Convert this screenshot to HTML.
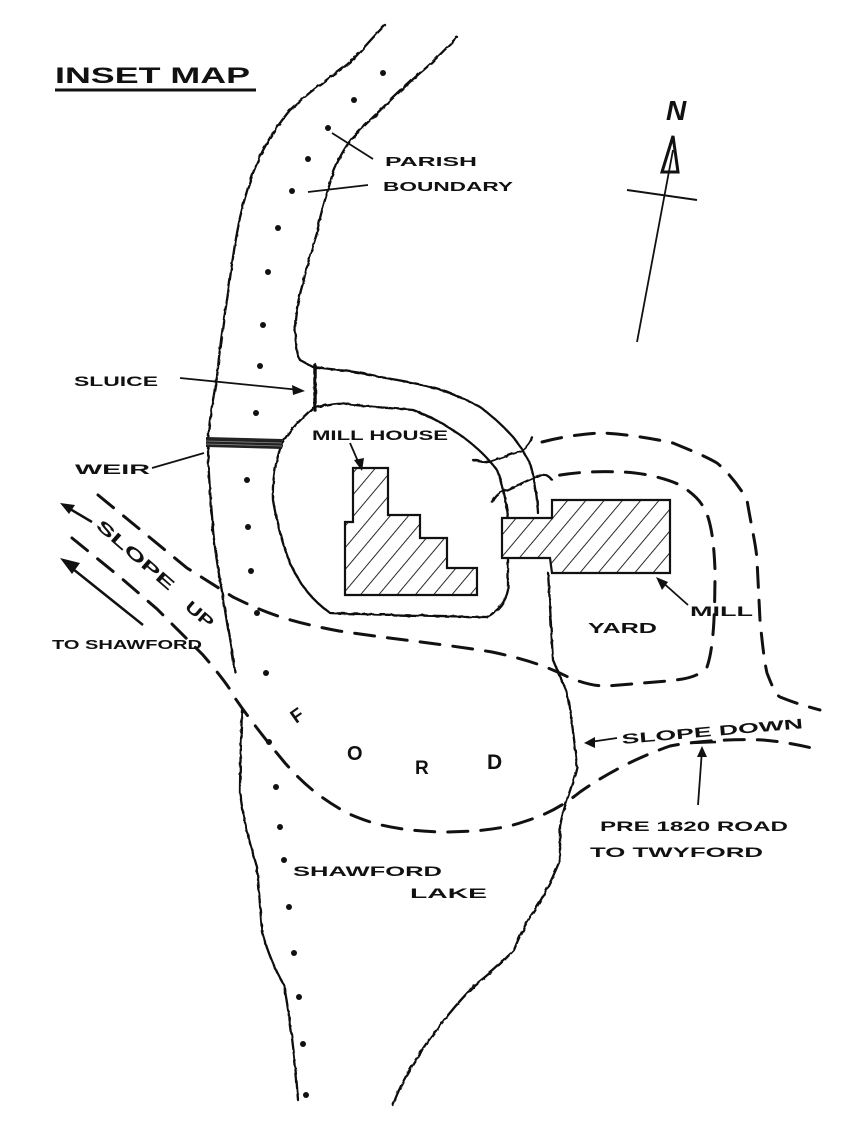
<!DOCTYPE html>
<html><head><meta charset="utf-8"><style>
html,body{margin:0;padding:0;background:#fff;}
svg{display:block;}
text{font-family:"Liberation Sans",sans-serif;font-weight:bold;fill:#111;}
</style></head><body>
<svg width="845" height="1142" viewBox="0 0 845 1142" xmlns="http://www.w3.org/2000/svg">
<defs>
<filter id="r" x="-5%" y="-5%" width="110%" height="110%">
<feTurbulence type="fractalNoise" baseFrequency="0.15" numOctaves="2" seed="3"/>
<feDisplacementMap in="SourceGraphic" scale="2.5"/>
</filter>
<pattern id="h" patternUnits="userSpaceOnUse" width="14" height="14" patternTransform="rotate(40)">
<line x1="0" y1="0" x2="0" y2="14" stroke="#111" stroke-width="1.8"/>
</pattern>
</defs>
<rect width="845" height="1142" fill="#fff"/>

<text x="55" y="83" font-size="22" textLength="195" lengthAdjust="spacingAndGlyphs" font-weight="normal">INSET MAP</text>
<line x1="55" y1="90" x2="256" y2="90" stroke="#111" stroke-width="3"/>

<g fill="none" stroke="#111" stroke-width="2.3" stroke-linecap="round" stroke-linejoin="round" filter="url(#r)">
<path d="M385,25 C365,45 355,60 340,70 C315,88 300,100 290,110 C270,135 262,150 253,173 C245,195 240,215 237,233 C232,260 230,280 227,300 C222,330 219,355 217,377 C213,400 209,420 208,443 C208,480 212,510 213,530 C216,560 220,580 223,597 C227,625 232,650 235,672"/>
<path d="M242,710 C241,740 240,770 240,793 C245,830 252,850 257,867 C259,890 260,905 262,932 C270,960 278,975 284,985 C292,1030 296,1070 298,1100"/>
<path d="M457,37 C440,55 430,65 420,73 C395,95 370,120 353,137 C343,150 338,160 333,173 C325,200 320,215 317,233 C310,255 306,270 303,283 C298,300 295,315 295,330 C296,345 297,355 300,360 L313,367"/>
<path d="M313,367 C340,370 360,372 380,377 C410,382 430,386 447,392 C462,398 472,402 480,407 C495,418 505,428 513,437 C520,445 526,456 530,463 C535,480 537,495 538,513"/>
<path d="M313,408 C330,404 340,402 347,404 C370,407 390,408 413,410 C435,418 450,428 463,437 C478,448 488,458 497,470 C503,485 506,500 508,517"/>
<path d="M313,408 C300,420 290,430 282,443 C276,460 272,480 273,500 C278,530 284,548 290,563 C300,585 312,600 330,613 C380,615 440,616 487,617 C500,610 506,600 508,590 L508,558"/>
<path d="M548,573 C550,600 551,630 553,660 C558,672 563,683 567,693 C572,720 575,745 577,767 C574,780 570,790 567,800 C563,812 561,820 560,827 C560,840 560,850 560,860 C552,880 542,900 530,917 C522,930 518,940 514,950 C500,965 488,975 475,985 C455,1005 440,1025 426,1044 C410,1068 400,1085 393,1105"/>
<line x1="315" y1="365" x2="315" y2="410" stroke-width="3.5"/>
<path d="M473,460 C480,461 486,462 490,462 L523,450 C528,446 531,442 532,437"/>
<path d="M492,502 C495,495 500,491 507,490 L540,475 C545,474 549,476 552,480"/>
</g>
<path d="M206,437 L282,439 L282,449 L206,447 Z" fill="#222"/>
<path d="M206,441 L282,443 M206,444 L282,446" stroke="#888" stroke-width="0.8"/>

<g stroke="#111" stroke-width="2.2" fill="url(#h)">
<path d="M353,468 L388,468 L388,515 L420,515 L420,538 L447,538 L447,568 L477,568 L477,595 L345,595 L345,522 L353,522 Z"/>
<path d="M502,518 L552,518 L552,500 L670,500 L670,573 L552,573 L550,558 L502,558 Z"/>
</g>

<g fill="none" stroke="#111" stroke-width="3" stroke-dasharray="20 13" stroke-linecap="round">
<path d="M98,495 L148,536 L187,568 L233,597 C260,610 280,620 339,631 C400,640 450,645 492,652 C530,660 550,668 568,677 C585,684 595,686 607,686 L667,681 C685,679 697,678 707,667 C713,650 715,620 715,570 C714,545 712,530 708,517 C703,505 700,498 680,485 C665,478 640,472 620,472 C600,471 575,472 555,476"/>
<path d="M542,442 C565,436 590,433 603,433 C625,434 650,438 673,443 C690,450 705,456 717,463 C728,472 740,487 747,500 C752,530 756,545 757,560 L760,620 C762,640 764,660 767,673 C772,686 776,695 780,697 C795,703 805,706 820,710"/>
<path d="M72,538 L120,577 L157,609 L203,655 C220,675 230,688 235,698 C250,720 270,745 285,763 C300,780 315,795 347,813 C370,823 390,830 440,832 C470,832 500,830 523,822 C545,815 560,808 580,792 C600,778 630,760 670,746 C700,740 740,739 763,740 C785,742 800,745 820,750"/>
</g>

<g fill="#111">
<circle cx="383" cy="73" r="3"/><circle cx="354" cy="100" r="3"/><circle cx="328" cy="128" r="3"/>
<circle cx="308" cy="159" r="3"/><circle cx="292" cy="191" r="3"/><circle cx="278" cy="228" r="3"/>
<circle cx="268" cy="272" r="3"/><circle cx="263" cy="325" r="3"/><circle cx="260" cy="366" r="3"/>
<circle cx="256" cy="413" r="3"/><circle cx="247" cy="480" r="3"/><circle cx="248" cy="527" r="3"/>
<circle cx="251" cy="571" r="3"/><circle cx="257" cy="613" r="3"/><circle cx="266" cy="673" r="3"/>
<circle cx="269" cy="742" r="3"/><circle cx="276" cy="787" r="3"/><circle cx="280" cy="827" r="3"/>
<circle cx="284" cy="860" r="3"/><circle cx="289" cy="907" r="3"/><circle cx="294" cy="953" r="3"/>
<circle cx="299" cy="997" r="3"/><circle cx="303" cy="1044" r="3"/><circle cx="306" cy="1095" r="3"/>
</g>

<g stroke="#111" stroke-width="1.8" fill="none">
<line x1="332" y1="133" x2="373" y2="159"/>
<line x1="308" y1="192" x2="368" y2="185"/>
<line x1="180" y1="378" x2="300" y2="390"/>
<line x1="152" y1="468" x2="204" y2="453"/>
<line x1="350" y1="443" x2="360" y2="466"/>
<line x1="688" y1="605" x2="660" y2="580"/>
<line x1="617" y1="738" x2="590" y2="742"/>
<line x1="698" y1="805" x2="702" y2="750"/>
<line x1="690" y1="743" x2="716" y2="742" stroke-width="2.5"/>
<line x1="65" y1="506" x2="92" y2="522" stroke-width="2.5"/>
<line x1="68" y1="565" x2="143" y2="625" stroke-width="2.5"/>
<line x1="637" y1="342" x2="673" y2="150"/>
<line x1="627" y1="190" x2="697" y2="200" stroke-width="2"/>
</g>
<g fill="#111">
<polygon points="305,391 292,385 293,395"/>
<polygon points="362,471 354,460 364,458"/>
<polygon points="656,577 668,582 662,590"/>
<polygon points="584,743 595,737 595,748"/>
<polygon points="702,746 697,757 707,757"/>
<polygon points="60,503 75,505 69,514"/>
<polygon points="60,558 80,563 72,574"/>
<polygon points="673,136 662,172 678,172" fill="none" stroke="#111" stroke-width="3"/>
</g>

<text x="666" y="120" font-size="28" font-style="italic" font-weight="normal">N</text>
<text x="385" y="166" font-size="13" textLength="92" lengthAdjust="spacingAndGlyphs">PARISH</text>
<text x="383" y="191" font-size="13" textLength="130" lengthAdjust="spacingAndGlyphs">BOUNDARY</text>
<text x="74" y="386" font-size="14" textLength="84" lengthAdjust="spacingAndGlyphs">SLUICE</text>
<text x="75" y="474" font-size="14" textLength="75" lengthAdjust="spacingAndGlyphs">WEIR</text>
<text x="312" y="440" font-size="14" textLength="136" lengthAdjust="spacingAndGlyphs">MILL HOUSE</text>
<text x="588" y="633" font-size="15" textLength="69" lengthAdjust="spacingAndGlyphs">YARD</text>
<text x="690" y="616" font-size="14" textLength="63" lengthAdjust="spacingAndGlyphs">MILL</text>
<text x="52" y="649" font-size="13" textLength="150" lengthAdjust="spacingAndGlyphs">TO SHAWFORD</text>
<text transform="translate(95,527) rotate(41)" font-size="16" textLength="98" lengthAdjust="spacingAndGlyphs">SLOPE</text>
<text transform="translate(184,608) rotate(41)" font-size="16" textLength="32" lengthAdjust="spacingAndGlyphs">UP</text>
<text transform="translate(622,744) rotate(-5)" font-size="14" textLength="182" lengthAdjust="spacingAndGlyphs">SLOPE  DOWN</text>
<text x="600" y="831" font-size="14" textLength="188" lengthAdjust="spacingAndGlyphs">PRE 1820 ROAD</text>
<text x="590" y="857" font-size="14" textLength="173" lengthAdjust="spacingAndGlyphs">TO TWYFORD</text>
<text x="293" y="876" font-size="14" textLength="149" lengthAdjust="spacingAndGlyphs">SHAWFORD</text>
<text x="410" y="898" font-size="14" textLength="77" lengthAdjust="spacingAndGlyphs">LAKE</text>
<text transform="translate(296,724) rotate(-35)" font-size="19">F</text>
<text x="347" y="760" font-size="20">O</text>
<text x="415" y="774" font-size="19">R</text>
<text x="487" y="769" font-size="21">D</text>
</svg>
</body></html>
